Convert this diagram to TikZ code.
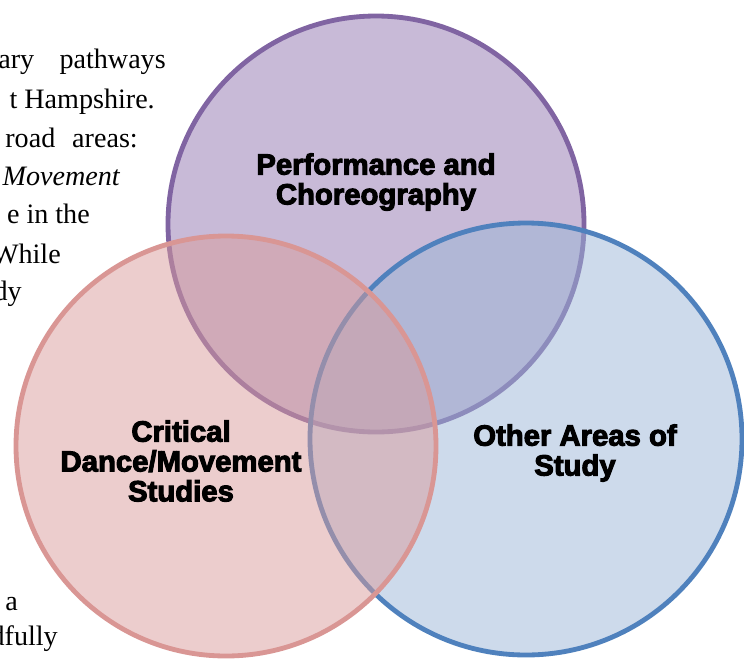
\documentclass[tikz,border=0pt]{standalone}
\usepackage{fontspec}
\setmainfont{Liberation Serif}
\newfontfamily\etiquetafont{Liberation Sans}[BoldFeatures={FakeBold=3.5}]
\usetikzlibrary{positioning}
\definecolor{morado}{RGB}{128,100,162}
\definecolor{moradofondo}{RGB}{145,117,175}
\definecolor{azul}{RGB}{79,129,189}
\definecolor{azulfondo}{RGB}{155,181,215}
\definecolor{rojo}{RGB}{217,150,148}
\definecolor{rojofondo}{RGB}{217,155,155}
\tikzset{
 circulo/.style={
 circle,
 line width=1.45mm,
 fill opacity=0.5,
 inner sep=0pt},
 area/.style={
 align=center,
 font=\etiquetafont\bfseries\fontsize{25}{25.5}\selectfont},
 parrafo/.style={
 anchor=base east,
 inner sep=0pt,
 font=\fontsize{24}{24}\selectfont}
}

\begin{document}
\begin{tikzpicture}[x=0.3mm,y=-0.3mm]
 \useasboundingbox (0,0) rectangle (744,658);
 \clip (0,0) rectangle (744,658);

 % texto de fondo
 \node[parrafo] (l1) at (166,68) {ary\hspace{0.9em}pathways};
 \node[parrafo] (l2) at (155,108) {t Hampshire.};
 \node[parrafo] (l3) at (138,147) {road\hspace{0.6em}areas:};
 \node[parrafo] (l4) at (120,185) {\itshape Movement};
 \node[parrafo] (l5) at (90,223) {e in the};
 \node[parrafo] (l6) at (61,263) {While};
 \node[parrafo] (l7) at (22,300) {dy};
 \node[parrafo] (l8) at (18,610) {a};
 \node[parrafo] (l9) at (58,645) {dfully};

 % circulos
 \node[circulo, draw=morado, fill=moradofondo, minimum size=124.8mm] (performance) at (376,224) {};
 \node[circulo, draw=azul, fill=azulfondo, minimum size=129.6mm] (otras) at (526,439) {};
 \node[circulo, draw=rojo, fill=rojofondo, minimum size=126mm] (critical) at (226,446) {};

 \node[area] (perf) at (376,182) {Performance and\\Choreography};
 \node[area] (crit) at (181,461) {Critical\\Dance/Movement\\Studies};
 \node[area] (otra) at (575,453) {Other Areas of\\Study};
\end{tikzpicture}
\end{document}
